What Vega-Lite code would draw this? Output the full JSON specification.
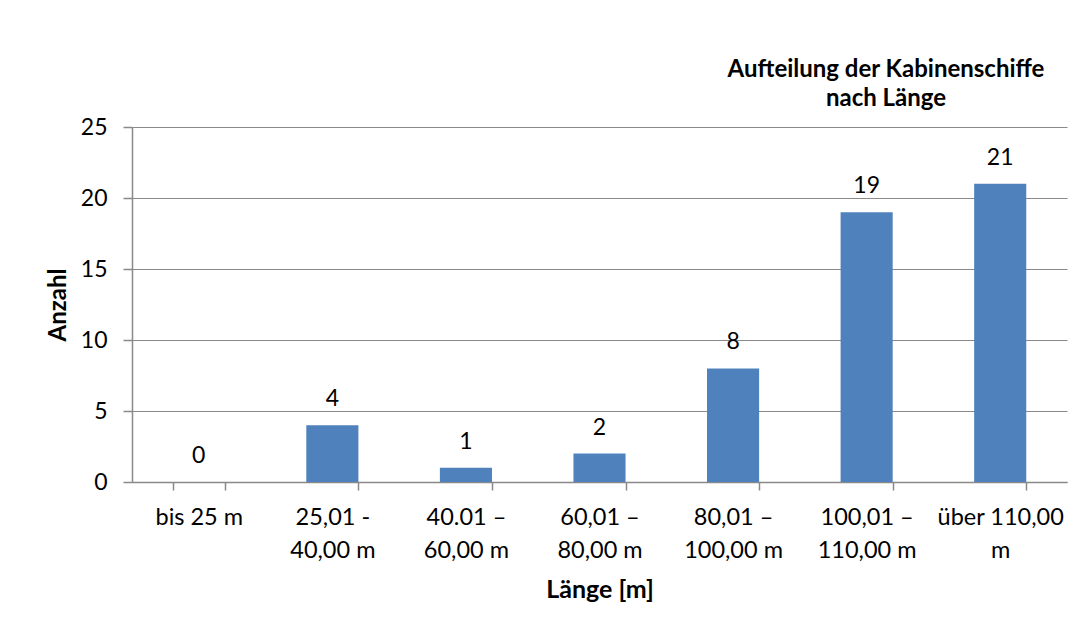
{
  "$schema": "https://vega.github.io/schema/vega-lite/v6.json",
  "width": 935,
  "height": 355,
  "autosize": {"type": "none"},
  "padding": {"left": 132, "top": 127, "right": 22, "bottom": 153},
  "background": "white",
  "config": {"view": {"stroke": null}, "font": "Lato"},
  "title": {
    "text": ["Aufteilung der Kabinenschiffe", "nach Länge"],
    "anchor": "start",
    "align": "center",
    "dx": 754,
    "dy": 14,
    "frame": "group",
    "fontSize": 24,
    "fontWeight": "bold",
    "font": "Lato",
    "color": "#000000",
    "baseline": "alphabetic",
    "lineHeight": 29,
    "offset": 0
  },
  "data": {
    "values": [
      {"Laenge": "bis 25 m", "Anzahl": 0},
      {"Laenge": "25,01 -|40,00 m", "Anzahl": 4},
      {"Laenge": "40.01 –|60,00 m", "Anzahl": 1},
      {"Laenge": "60,01 –|80,00 m", "Anzahl": 2},
      {"Laenge": "80,01 –|100,00 m", "Anzahl": 8},
      {"Laenge": "100,01 –|110,00 m", "Anzahl": 19},
      {"Laenge": "über 110,00|m", "Anzahl": 21}
    ]
  },
  "encoding": {
    "x": {
      "field": "Laenge",
      "type": "nominal",
      "sort": null,
      "scale": {"paddingInner": 0.61, "paddingOuter": 0.305},
      "axis": {
        "title": "Länge [m]",
        "labelExpr": "split(datum.label, '|')",
        "labelAngle": 0,
        "labelAlign": "center",
        "labelBaseline": "top",
        "labelPadding": 15.5,
        "labelLineHeight": 33,
        "labelFontSize": 23.5,
        "labelFont": "Lato",
        "labelColor": "#000000",
        "labelOverlap": false,
        "labelLimit": 300,
        "tickBand": "extent",
        "tickSize": 8,
        "tickColor": "#898989",
        "tickWidth": 1.5,
        "domainColor": "#898989",
        "domainWidth": 1.5,
        "grid": false,
        "titleFontSize": 25,
        "titleFontWeight": "bold",
        "titleFont": "Lato",
        "titleColor": "#000000",
        "titleBaseline": "alphabetic",
        "titleY": 115,
        "titleX": 467.5,
        "titleAlign": "center"
      }
    },
    "y": {
      "field": "Anzahl",
      "type": "quantitative",
      "scale": {"domain": [0, 25], "nice": false},
      "axis": {
        "title": "Anzahl",
        "values": [0, 5, 10, 15, 20, 25],
        "grid": true,
        "gridColor": "#898989",
        "gridWidth": 1.2,
        "domainColor": "#898989",
        "domainWidth": 1.5,
        "tickColor": "#898989",
        "tickWidth": 1.5,
        "tickSize": 9,
        "labelPadding": 16,
        "labelFontSize": 23,
        "labelFont": "Lato",
        "labelColor": "#000000",
        "titleFontSize": 24,
        "titleFontWeight": "bold",
        "titleFont": "Lato",
        "titleColor": "#000000",
        "titleAngle": -90,
        "titleBaseline": "alphabetic",
        "titleAlign": "center",
        "titleX": -67,
        "titleY": 177.5
      }
    }
  },
  "layer": [
    {"mark": {"type": "bar", "color": "#4F81BD"}},
    {
      "mark": {"type": "text", "baseline": "alphabetic", "dy": -19, "fontSize": 23, "font": "Lato", "color": "#000000"},
      "encoding": {"text": {"field": "Anzahl", "type": "quantitative"}}
    }
  ]
}
